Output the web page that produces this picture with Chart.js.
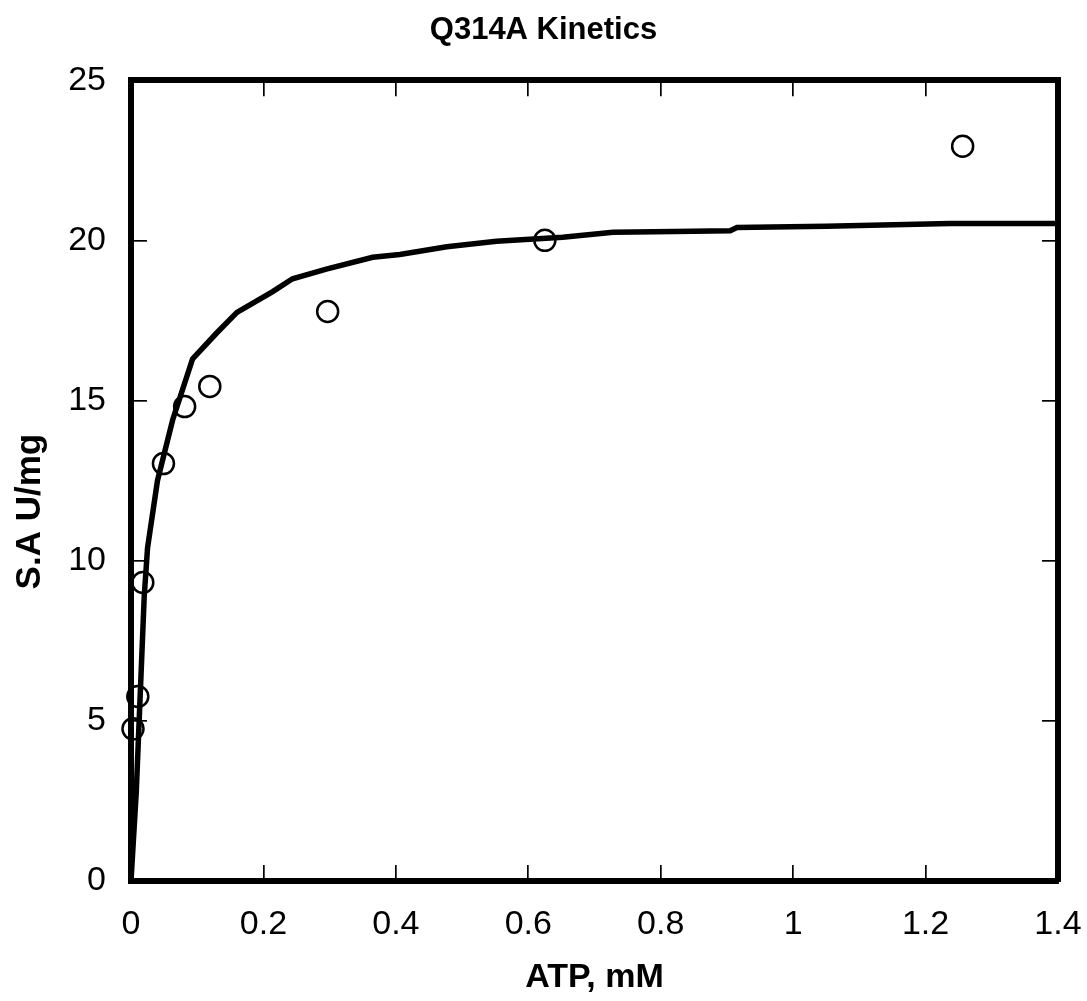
<!DOCTYPE html>
<html>
<head>
<meta charset="utf-8">
<script src="https://cdn.jsdelivr.net/npm/chart.js@4/dist/chart.umd.min.js"></script>
<style>
html,body{margin:0;padding:0;background:#fff;}
#wrap{width:1087px;height:1001px;}
</style>
</head>
<body>
<div id="wrap"><canvas id="c" width="1087" height="1001"></canvas></div>
<script>
// ---- data ----
const chartTitle = 'Q314A Kinetics';
const xAxisTitle = 'ATP, mM';
const yAxisTitle = 'S.A U/mg';

// measured points (ATP mM, specific activity U/mg)
const atpConc   = [0.003, 0.0103, 0.0178, 0.049, 0.081, 0.119, 0.297, 0.625, 1.256];
const specAct   = [4.75, 5.76, 9.32, 13.03, 14.81, 15.44, 17.78, 20.0, 22.94];

// fitted curve
const fitAtp = [0, 0.008, 0.0128, 0.02, 0.025, 0.04, 0.063, 0.093, 0.129, 0.16, 0.214, 0.244, 0.295, 0.365, 0.406, 0.477, 0.552, 0.652, 0.728, 0.82, 0.905, 0.915, 1.05, 1.237, 1.4];
const fitAct = [0, 2.8, 5.25, 8.9, 10.4, 12.5, 14.4, 16.3, 17.1, 17.75, 18.4, 18.8, 19.1, 19.47, 19.56, 19.8, 19.97, 20.1, 20.25, 20.28, 20.3, 20.4, 20.44, 20.53, 20.53];

// tick labels
const xTickValues = [0, 0.2, 0.4, 0.6, 0.8, 1, 1.2, 1.4];
const xTickLabels = ['0', '0.2', '0.4', '0.6', '0.8', '1', '1.2', '1.4'];
const yTickValues = [0, 5, 10, 15, 20, 25];
const yTickLabels = ['0', '5', '10', '15', '20', '25'];

const FONT = '"Liberation Sans", Arial, Helvetica, sans-serif';

const pointsData = atpConc.map((x, i) => ({x: x, y: specAct[i]}));
const fitData = fitAtp.map((x, i) => ({x: x, y: fitAct[i]}));

const setX = s => { s.ticks = xTickValues.map(v => ({value: v})); };
const setY = s => { s.ticks = yTickValues.map(v => ({value: v})); };
const xLabel = (v, i) => xTickLabels[i];
const yLabel = (v, i) => yTickLabels[i];

const gridOpts = {drawOnChartArea: false, tickLength: -16, color: '#000', lineWidth: 1.7};
const borderOpts = {width: 6, color: '#000'};

const noPad = s => { s.paddingLeft = 0; s.paddingRight = 0; s.paddingTop = 0; s.paddingBottom = 0; };

const yTitlePlugin = {
  id: 'yTitlePlugin',
  afterDraw(chart) {
    const {ctx, chartArea} = chart;
    ctx.save();
    ctx.font = 'bold 35px ' + FONT;
    ctx.fillStyle = '#000';
    ctx.textAlign = 'center';
    ctx.textBaseline = 'middle';
    ctx.translate(30, (chartArea.top + chartArea.bottom) / 2 + 31);
    ctx.rotate(-Math.PI / 2);
    ctx.fillText(yAxisTitle, 0, 0);
    ctx.restore();
  }
};

new Chart(document.getElementById('c'), {
  type: 'scatter',
  data: {
    datasets: [
      {
        type: 'line',
        label: 'fit',
        data: fitData,
        borderColor: '#000',
        borderWidth: 5.5,
        pointRadius: 0,
        tension: 0,
        fill: false,
        order: 2
      },
      {
        type: 'scatter',
        label: 'data',
        data: pointsData,
        pointStyle: 'circle',
        pointRadius: 10.5,
        pointBorderWidth: 2.5,
        pointBorderColor: '#000',
        pointBackgroundColor: 'rgba(0,0,0,0)',
        clip: false,
        order: 1
      }
    ]
  },
  options: {
    responsive: false,
    animation: false,
    devicePixelRatio: 1,
    layout: {padding: 0},
    plugins: {
      legend: {display: false},
      tooltip: {enabled: false},
      title: {
        display: true,
        text: chartTitle,
        color: '#000',
        font: {family: FONT, size: 31, weight: 'bold'},
        padding: {top: 12, bottom: 31}
      }
    },
    scales: {
      x: {
        type: 'linear', position: 'bottom', min: 0, max: 1.4,
        afterBuildTicks: setX,
        afterFit: s => { s.height = 120; noPad(s); },
        ticks: {font: {family: FONT, size: 34}, color: '#000', padding: 39, maxRotation: 0, autoSkip: false, callback: xLabel},
        grid: gridOpts,
        border: borderOpts,
        title: {display: true, text: xAxisTitle, color: '#000', font: {family: FONT, size: 34, weight: 'bold'}, padding: {top: 0, bottom: 3}}
      },
      x2: {
        type: 'linear', position: 'top', min: 0, max: 1.4,
        afterBuildTicks: setX,
        afterFit: s => { s.height = 0; noPad(s); },
        ticks: {display: false},
        grid: gridOpts,
        border: borderOpts
      },
      y: {
        type: 'linear', position: 'left', min: 0, max: 25,
        afterBuildTicks: setY,
        afterFit: s => { s.width = 131; noPad(s); },
        ticks: {font: {family: FONT, size: 34}, color: '#000', padding: 41, callback: yLabel},
        grid: gridOpts,
        border: borderOpts
      },
      y2: {
        type: 'linear', position: 'right', min: 0, max: 25,
        afterBuildTicks: setY,
        afterFit: s => { s.width = 29; noPad(s); },
        ticks: {display: false},
        grid: gridOpts,
        border: borderOpts
      }
    }
  },
  plugins: [yTitlePlugin]
});
</script>
</body>
</html>
